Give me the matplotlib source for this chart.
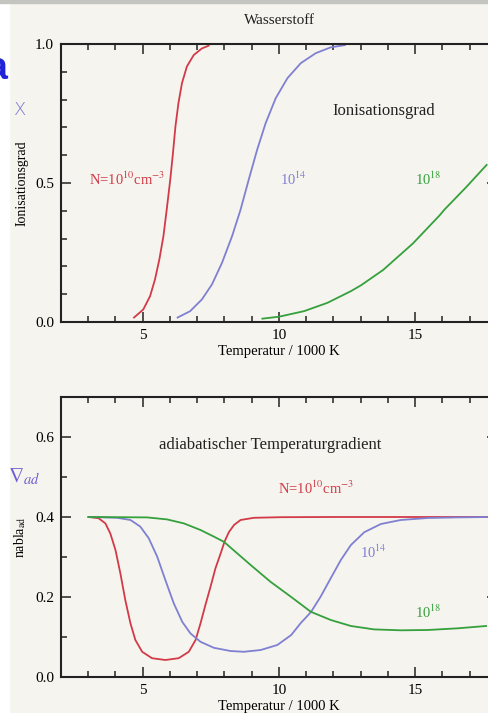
import matplotlib
matplotlib.use("Agg")
import matplotlib.pyplot as plt
from matplotlib.patches import Rectangle
from matplotlib.ticker import MultipleLocator, FormatStrFormatter

plt.rcParams['font.family'] = ['Liberation Serif', 'DejaVu Serif']
plt.rcParams['mathtext.fontset'] = 'stix'

# Ionisationsgrad x(T), T in 1000 K
t_x10 = [4.68, 5.02, 5.27, 5.45, 5.61, 5.76, 5.88, 6.01, 6.11, 6.20, 6.31, 6.44, 6.62, 6.87, 7.17, 7.42]
x_10 = [0.016, 0.045, 0.093, 0.153, 0.225, 0.309, 0.404, 0.512, 0.608, 0.703, 0.787, 0.859, 0.919,
        0.960, 0.984, 0.994]
t_x14 = [6.28, 6.74, 7.17, 7.54, 7.91, 8.28, 8.59, 8.89, 9.20, 9.51, 9.88, 10.31, 10.80, 11.35,
         11.90, 12.42]
x_14 = [0.016, 0.039, 0.081, 0.135, 0.213, 0.309, 0.404, 0.512, 0.620, 0.715, 0.805, 0.877, 0.931,
        0.967, 0.988, 0.996]
t_x18 = [9.39, 10.0, 10.92, 11.78, 12.64, 13.01, 13.82, 14.91, 15.89, 16.08, 16.87, 17.62]
x_18 = [0.012, 0.019, 0.039, 0.069, 0.111, 0.132, 0.187, 0.282, 0.383, 0.405, 0.485, 0.565]

# adiabatischer Gradient nabla_ad(T)
t_n10 = [3.01, 3.38, 3.63, 3.81, 4.00, 4.18, 4.36, 4.55, 4.73, 4.98, 5.34, 5.83, 6.32, 6.69, 6.94,
         7.12, 7.30, 7.49, 7.67, 7.86, 8.00, 8.16, 8.35, 8.59, 9.08, 10.06, 12.0, 18.0]
n_10 = [0.400, 0.397, 0.384, 0.359, 0.3175, 0.259, 0.1925, 0.134, 0.0925, 0.063, 0.047, 0.0425,
        0.047, 0.063, 0.0925, 0.134, 0.180, 0.226, 0.272, 0.309, 0.338, 0.362, 0.380, 0.3925,
        0.398, 0.3995, 0.400, 0.400]
t_n14 = [3.01, 4.06, 4.55, 4.91, 5.22, 5.53, 5.83, 6.14, 6.45, 6.75, 7.12, 7.61, 8.22, 8.71, 9.33,
         9.94, 10.45, 10.80, 11.17, 11.53, 11.90, 12.27, 12.64, 13.13, 13.74, 14.47, 15.46, 16.56,
         17.75]
n_14 = [0.400, 0.398, 0.3925, 0.376, 0.347, 0.301, 0.2425, 0.184, 0.138, 0.109, 0.088, 0.073, 0.065,
        0.063, 0.0675, 0.080, 0.105, 0.135, 0.162, 0.201, 0.247, 0.2925, 0.330, 0.362, 0.3825,
        0.3925, 0.3975, 0.399, 0.400]
t_n18 = [3.01, 5.16, 5.89, 6.51, 7.12, 7.61, 7.98, 8.47, 8.96, 9.69, 10.43, 11.17, 11.90, 12.64,
         13.49, 14.47, 15.46, 16.56, 17.60]
n_18 = [0.400, 0.399, 0.394, 0.384, 0.3675, 0.351, 0.338, 0.309, 0.280, 0.238, 0.201, 0.163,
        0.1425, 0.1275, 0.119, 0.1167, 0.1175, 0.1217, 0.1275]

red = '#d23a48'
blue = '#7f80d2'
green = '#35a03c'
bg = '#f5f4ef'

fig = plt.figure(figsize=(4.89, 7.13), dpi=100, facecolor=bg)
fig.add_artist(Rectangle((0, 0), 9 / 489, 1, transform=fig.transFigure, color='white', zorder=0))
fig.add_artist(Rectangle((0, 1 - 2.5 / 713), 1, 2.5 / 713, transform=fig.transFigure,
                         color='#c4c4c0', zorder=0))

ax1 = fig.add_axes([0.1247, 0.5484, 0.8916, 0.3899])
ax2 = fig.add_axes([0.1247, 0.0505, 0.8916, 0.3927])


def style(ax, ymajor, yminor):
    ax.set_facecolor(bg)
    ax.set_xlim(2, 18)
    ax.xaxis.set_major_locator(MultipleLocator(5))
    ax.xaxis.set_minor_locator(MultipleLocator(1))
    ax.yaxis.set_major_locator(MultipleLocator(ymajor))
    ax.yaxis.set_minor_locator(MultipleLocator(yminor))
    ax.yaxis.set_major_formatter(FormatStrFormatter('%.1f'))
    ax.tick_params(which='both', direction='in', top=True, right=True, width=1.1,
                   color='#222222', labelsize=11, pad=5)
    ax.tick_params(which='major', length=7.5)
    ax.tick_params(which='minor', length=4.5)
    for s in ax.spines.values():
        s.set_linewidth(1.5)
        s.set_color('#222222')


# oberes Bild: Ionisationsgrad
ax1.plot(t_x10, x_10, color=red, lw=1.3)
ax1.plot(t_x14, x_14, color=blue, lw=1.3)
ax1.plot(t_x18, x_18, color=green, lw=1.3)
ax1.set_ylim(0, 1.0)
style(ax1, 0.5, 0.1)
ax1.set_xlabel('Temperatur / 1000 K', fontsize=10.5, labelpad=2)
ax1.set_ylabel('Ionisationsgrad', fontsize=10, labelpad=5)
ax1.text(13.86, 0.76, 'Ionisationsgrad', fontsize=12, ha='center', va='center', color='#222222')
ax1.text(3.02, 0.514, r'N=10$^{10}$cm$^{-3}$', fontsize=10.5, color=red, va='center')
ax1.text(10.05, 0.514, r'10$^{14}$', fontsize=10.5, color=blue, va='center')
ax1.text(15.0, 0.514, r'10$^{18}$', fontsize=10.5, color=green, va='center')
fig.text(279 / 489, 1 - 20 / 713, 'Wasserstoff', fontsize=11, ha='center', va='center',
         color='#222222')

# unteres Bild: adiabatischer Gradient
ax2.plot(t_n10, n_10, color=red, lw=1.3)
ax2.plot(t_n14, n_14, color=blue, lw=1.3)
ax2.plot(t_n18, n_18, color=green, lw=1.3)
ax2.set_ylim(0, 0.7)
style(ax2, 0.2, 0.1)
ax2.set_xlabel('Temperatur / 1000 K', fontsize=10.5, labelpad=2)
ax2.set_ylabel(r'nabla$_{\mathrm{ad}}$', fontsize=10, labelpad=5)
ax2.text(9.69, 0.58, 'adiabatischer Temperaturgradient', fontsize=12, ha='center', va='center',
         color='#222222')
ax2.text(9.98, 0.4725, r'N=10$^{10}$cm$^{-3}$', fontsize=10.5, color=red, va='center')
ax2.text(12.99, 0.3125, r'10$^{14}$', fontsize=10.5, color=blue, va='center')
ax2.text(15.0, 0.1625, r'10$^{18}$', fontsize=10.5, color=green, va='center')

# handschriftliche Notizen
fig.text(8 / 489, 1 - 79 / 713, 'a', fontsize=27, fontweight='bold', color='#1f24d8',
         family='Liberation Sans', ha='right', va='baseline')
fig.text(20 / 489, 1 - 110 / 713, 'X', fontsize=13, color='#7b78d0', family='DejaVu Sans',
         ha='center', va='center', fontweight='light')
fig.text(8 / 489, 1 - 477 / 713, r'$\nabla_{ad}$', fontsize=15, color='#6f5fd0',
         ha='left', va='center')

fig.savefig('out.png', dpi=100, facecolor=bg)
